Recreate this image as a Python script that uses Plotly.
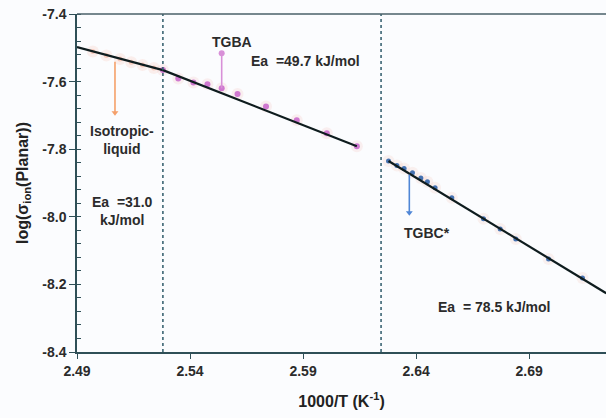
import plotly.graph_objects as go

# Measured conductivity: 1000/T (K^-1) vs log(sigma_ion) for the planar cell
iso_x = [2.497, 2.503, 2.509, 2.514, 2.519, 2.524]
iso_y = [-7.511, -7.523, -7.533, -7.543, -7.551, -7.560]

tgba_x = [2.528, 2.5348, 2.5415, 2.5477, 2.554, 2.561, 2.5736, 2.5872, 2.6005, 2.6138]
tgba_y = [-7.566, -7.591, -7.603, -7.608, -7.620, -7.637, -7.674, -7.714, -7.753, -7.791]

tgbc_x = [2.6278, 2.6315, 2.6347, 2.6384, 2.6421, 2.6450, 2.6484, 2.6558, 2.6698,
          2.6772, 2.6841, 2.6986, 2.7136]
tgbc_y = [-7.835, -7.848, -7.857, -7.870, -7.885, -7.896, -7.914, -7.944, -8.006,
          -8.036, -8.066, -8.125, -8.181]

# Arrhenius fits (end points of each straight segment)
fit_iso_x = [2.49, 2.528]
fit_iso_y = [-7.498, -7.566]
fit_tgba_x = [2.528, 2.6138]
fit_tgba_y = [-7.566, -7.791]
fit_tgbc_x = [2.6278, 2.7241]
fit_tgbc_y = [-7.835, -8.226]

# Phase boundaries
boundaries = [2.528, 2.6245]

# Phase-marker sticks: x, start y, end y
iso_arrow = (2.5068, -7.541, -7.692)
tgba_stick = (2.554, -7.620, -7.516)
tgbc_arrow = (2.637, -7.875, -7.988)

y_ticks = [-7.4, -7.6, -7.8, -8.0, -8.2, -8.4]
y_tick_text = ["-7.4", "-7.6", "-7.8", "-8.0", "-8.2", "-8.4"]
x_ticks = [2.49, 2.54, 2.59, 2.64, 2.69]
x_tick_text = ["2.49", "2.54", "2.59", "2.64", "2.69"]

FONT = "Liberation Sans, Arial, sans-serif"
TXT = "#2b2b2b"
AXIS = "#2f4f57"

fig = go.Figure()

# soft halo under the points
for xs, ys, c in [(iso_x, iso_y, "rgba(250,170,140,0.16)"),
                  (tgba_x, tgba_y, "rgba(245,170,160,0.16)"),
                  (tgbc_x, tgbc_y, "rgba(245,180,160,0.16)")]:
    fig.add_trace(go.Scatter(x=xs, y=ys, mode="markers",
                             marker=dict(size=12, color=c, line=dict(width=0)),
                             showlegend=False, hoverinfo="skip"))

fig.add_trace(go.Scatter(x=iso_x, y=iso_y, mode="markers",
                         marker=dict(size=5, color="rgba(247,160,130,0.45)"),
                         showlegend=False))
fig.add_trace(go.Scatter(x=tgba_x, y=tgba_y, mode="markers",
                         marker=dict(size=6, color="rgba(196,90,200,0.8)"),
                         showlegend=False))
fig.add_trace(go.Scatter(x=tgbc_x, y=tgbc_y, mode="markers",
                         marker=dict(size=5, color="rgba(50,100,170,0.9)"),
                         showlegend=False))

for fx, fy in [(fit_iso_x, fit_iso_y), (fit_tgba_x, fit_tgba_y), (fit_tgbc_x, fit_tgbc_y)]:
    fig.add_trace(go.Scatter(x=fx, y=fy, mode="lines",
                             line=dict(color="#0e1c1e", width=2.2),
                             showlegend=False))

# phase markers: stick plus head
for (sx, y0, y1), col, sym in [(iso_arrow, "#f5a06a", "triangle-down"),
                               (tgba_stick, "#d890d8", "circle"),
                               (tgbc_arrow, "#4f86d6", "triangle-down")]:
    fig.add_trace(go.Scatter(x=[sx, sx], y=[y0, y1], mode="lines",
                             line=dict(color=col, width=1.6), showlegend=False))
    fig.add_trace(go.Scatter(x=[sx], y=[y1], mode="markers",
                             marker=dict(size=6, color=col, symbol=sym),
                             showlegend=False))

shapes = []
for bx in boundaries:
    shapes.append(dict(type="line", xref="x", yref="paper", x0=bx, x1=bx, y0=0, y1=1,
                       line=dict(color="#2e5a6a", width=1.5, dash="dot")))
# top frame line
shapes.append(dict(type="line", xref="paper", yref="paper", x0=0, x1=1, y0=1, y1=1,
                   line=dict(color="#4a6068", width=1.5)))

annotations = [
    dict(x=2.51, y=-7.774, text="Isotropic-<br>liquid"),
    dict(x=2.51, y=-7.982, text="Ea  =31.0<br>kJ/mol"),
    dict(x=2.5584, y=-7.483, text="TGBA"),
    dict(x=2.5909, y=-7.539, text="Ea  =49.7 kJ/mol"),
    dict(x=2.6449, y=-8.047, text="TGBC*"),
    dict(x=2.6745, y=-8.266, text="Ea  = 78.5 kJ/mol"),
]
for a in annotations:
    a["xref"] = "x"
    a["yref"] = "y"
    a["showarrow"] = False
    a["font"] = dict(family=FONT, size=14, color=TXT, weight="bold")

fig.update_layout(
    width=606, height=418,
    margin=dict(l=77, r=0, t=14, b=66),
    paper_bgcolor="#fbfcfe", plot_bgcolor="#fbfcfe",
    showlegend=False,
    shapes=shapes,
    annotations=annotations,
    font=dict(family=FONT, size=14, color=TXT),
    xaxis=dict(
        range=[2.49, 2.724], tickvals=x_ticks, ticktext=x_tick_text,
        showgrid=False, zeroline=False, showline=True, linecolor=AXIS, linewidth=1.5,
        ticks="outside", ticklen=5, tickcolor=AXIS, tickwidth=1.2,
        tickfont=dict(family=FONT, size=14, color=TXT, weight="bold"),
        title=dict(text="1000/T (K<sup>-1</sup>)", standoff=18,
                   font=dict(family=FONT, size=16, color="#222", weight="bold")),
    ),
    yaxis=dict(
        range=[-8.4, -7.4], tickvals=y_ticks, ticktext=y_tick_text,
        showgrid=False, zeroline=False, showline=True, linecolor=AXIS, linewidth=1.5,
        ticks="outside", ticklen=6, tickcolor=AXIS, tickwidth=1.2,
        tickfont=dict(family=FONT, size=14, color=TXT, weight="bold"),
        minor=dict(dtick=0.04, tick0=-7.4, ticks="inside", ticklen=4,
                   tickcolor=AXIS, tickwidth=1, showgrid=False),
        title=dict(text="log(σ<sub>ion</sub>(Planar))", standoff=10,
                   font=dict(family=FONT, size=16, color="#222", weight="bold")),
    ),
)

fig.write_html("out.html")
